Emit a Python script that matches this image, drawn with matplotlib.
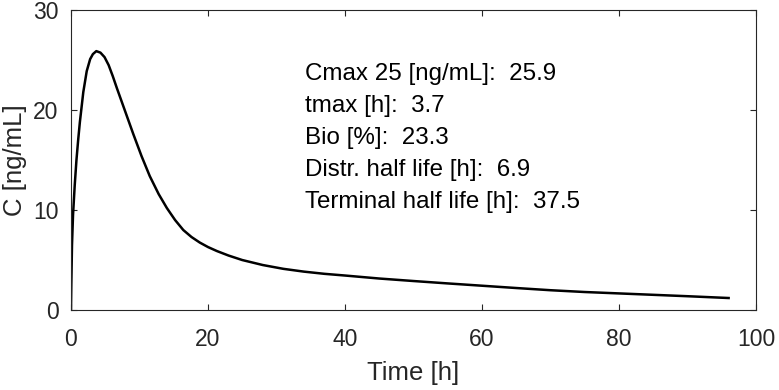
import matplotlib
matplotlib.use("Agg")
import matplotlib.pyplot as plt

# concentration-time profile
time_h = [0, 0.05, 0.15, 0.3, 0.55, 0.8, 1.05, 1.3, 1.8, 2.3, 2.8, 3.2, 3.7, 4.3, 4.9,
          5.5, 6.1, 6.7, 7.9, 9.1, 10.3, 11.5, 12.8, 14.0, 15.2, 16.4, 17.6, 18.8, 20.0,
          21.3, 23, 25, 28, 31, 34, 37, 40, 45, 50, 55, 60, 65, 70, 75, 80, 85, 90, 96]
conc = [0, 2.5, 6.5, 9.5, 12.5, 15, 17, 18.8, 21.8, 23.9, 25.1, 25.6, 25.9, 25.75, 25.3,
        24.5, 23.4, 22.2, 19.9, 17.6, 15.4, 13.4, 11.6, 10.2, 9.0, 8.0, 7.3, 6.75, 6.3,
        5.9, 5.45, 5.0, 4.5, 4.12, 3.84, 3.62, 3.45, 3.15, 2.9, 2.66, 2.43, 2.2, 1.98,
        1.8, 1.66, 1.52, 1.38, 1.2]

info = ["Cmax 25 [ng/mL]:  25.9",
        "tmax [h]:  3.7",
        "Bio [%]:  23.3",
        "Distr. half life [h]:  6.9",
        "Terminal half life [h]:  37.5"]

plt.rcParams['font.family'] = ['Liberation Sans', 'DejaVu Sans']
grey = '#262626'

fig = plt.figure(figsize=(7.79, 3.9), dpi=100)
ax = fig.add_axes([0.0911, 0.2051, 0.8794, 0.7689])
ax.plot(time_h, conc, color='black', lw=1.8)

ax.set_xlim(0, 100)
ax.set_ylim(0, 30)
ax.set_xticks([0, 20, 40, 60, 80, 100])
ax.set_yticks([0, 10, 20, 30])
ax.tick_params(direction='in', length=4.5, width=0.8, colors=grey, labelsize=16.5,
               pad=9, top=True, right=True)
ax.tick_params(axis='x', pad=13)
for s in ax.spines.values():
    s.set_color(grey)
    s.set_linewidth(0.8)
ax.set_xlabel('Time [h]', fontsize=18.5, color=grey, labelpad=7)
ax.set_ylabel('C [ng/mL]', fontsize=18.5, color=grey, labelpad=4)

for i, line in enumerate(info):
    ax.text(34.2, 23.6 - 3.2 * i, line, fontsize=17.4, color='black', va='center', ha='left')

fig.savefig('out.png', dpi=100)
